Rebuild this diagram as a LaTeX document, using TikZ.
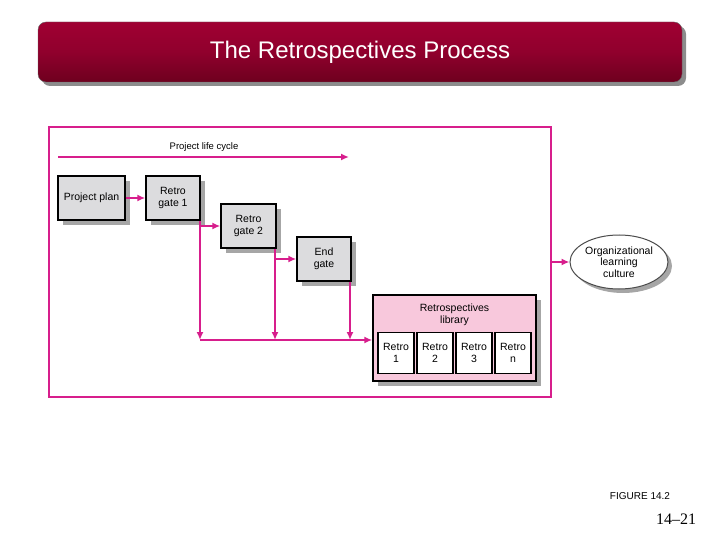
\documentclass[tikz,border=0pt]{standalone}
\usepackage{fontspec}
\setmainfont{Liberation Sans}
\newfontfamily\pgserif{Liberation Serif}
\usetikzlibrary{shapes.geometric,arrows.meta,shadows}
\definecolor{mag}{RGB}{215,30,140}
\definecolor{boxg}{RGB}{220,220,222}
\definecolor{libp}{RGB}{248,200,220}
\definecolor{banD}{RGB}{110,0,30}
\definecolor{banL}{RGB}{160,0,50}
\begin{document}
\begin{tikzpicture}[x=1pt,y=-1pt,
  sh/.style={drop shadow={shadow xshift=5pt,shadow yshift=-5pt,fill=black!35,opacity=1}},
  box/.style={draw,line width=1.4pt,fill=boxg,sh,minimum width=#1,align=center,font=\fontsize{10.5}{11.5}\selectfont,inner sep=1pt},
  rbox/.style={draw,line width=1.1pt,fill=white,minimum width=36pt,minimum height=41pt,align=center,font=\fontsize{10.5}{11.5}\selectfont,inner sep=1pt},
  ar/.style={draw=mag,line width=2.6pt,-{Latex[length=8pt,width=7pt]}}]
\useasboundingbox (0,0) rectangle (720,540);
\fill[black!45,rounded corners=8pt] (42,26) rectangle (686,86);
\shade[top color=banL,bottom color=banD,middle color=banL!90!black,rounded corners=8pt,draw=black!60] (38,22) rectangle (682,82);
\node[text=white,font=\fontsize{24}{28}\selectfont] (title) at (360,52) {The Retrospectives Process};
\draw[mag,line width=1.6pt] (49,127) rectangle (551,397);
\node[font=\fontsize{9.5}{10}\selectfont] (plc) at (204,147) {Project life cycle};
\coordinate (l0) at (58,157); \coordinate (l1) at (349,157);
\draw[ar] (l0) -- (l1);
\node[box=67pt,minimum height=44pt] (pp) at (91.5,198) {Project plan};
\node[box=54pt,minimum height=44pt] (g1) at (173,198) {Retro\\gate 1};
\node[box=55pt,minimum height=44pt] (g2) at (248.5,226) {Retro\\gate 2};
\node[box=54pt,minimum height=44pt] (eg) at (324,259) {End\\gate};
\node[draw,line width=1.4pt,fill=libp,sh,minimum width=163pt,minimum height=86pt] (lib) at (454.5,338) {};
\node[font=\fontsize{10.5}{11.5}\selectfont,align=center] (libt) at (454.5,315) {Retrospectives\\library};
\node[rbox] (r1) at (396,353) {Retro\\1};
\node[rbox] (r2) at (435,353) {Retro\\2};
\node[rbox] (r3) at (474,353) {Retro\\3};
\node[rbox] (rn) at (513,353) {Retro\\n};
\node[ellipse,draw=black!70,line width=1pt,fill=white,drop shadow={shadow xshift=4pt,shadow yshift=-4pt,fill=black!35,opacity=1},minimum width=98pt,minimum height=54pt,align=center,font=\fontsize{10.5}{11.5}\selectfont,inner sep=0pt] (olc) at (619,262) {Organizational\\learning\\culture};
\draw[ar] (pp.east) -- (g1.west);
\coordinate (t1) at (200,221); \coordinate (t2) at (275,249); \coordinate (t3) at (350,282);
\coordinate (j1) at (200,340); \coordinate (j2) at (275,340); \coordinate (j3) at (350,340);
\draw[ar] (200,226) -- (g2.west |- 0,226);
\draw[ar] (275,259) -- (eg.west |- 0,259);
\draw[ar] (t1) -- (j1);
\draw[ar] (t2) -- (j2);
\draw[ar] (t3) -- (j3);
\draw[ar] (j1) -- (lib.west |- j1);
\coordinate (fr) at (551,262);
\draw[ar] (fr) -- (olc.west);
\node[font=\fontsize{10}{11}\selectfont] (fig) at (640,496) {FIGURE 14.2};
\node[font=\fontsize{16}{18}\pgserif] (pg) at (676,519) {14–21};
\end{tikzpicture}
\end{document}
